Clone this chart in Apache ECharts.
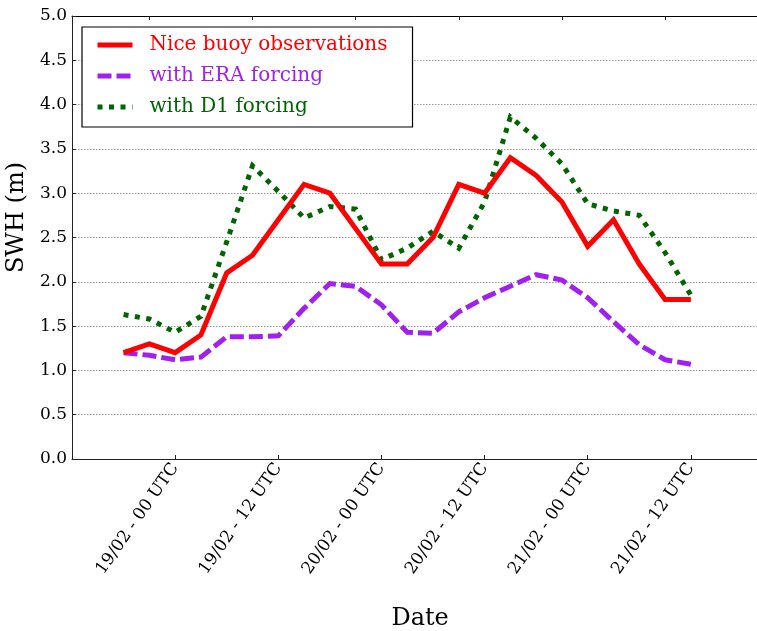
<!DOCTYPE html>
<html>
<head>
<meta charset="utf-8">
<script src="https://cdn.jsdelivr.net/npm/echarts@6/dist/echarts.min.js"></script>
<style>
html,body{margin:0;padding:0;background:#fff;}
#chart{width:757px;height:631px;}
</style>
</head>
<body>
<div id="chart"></div>
<script>
// Observation times (3-hourly)
var times = ['18/02 18','18/02 21','19/02 00','19/02 03','19/02 06','19/02 09','19/02 12','19/02 15','19/02 18','19/02 21',
             '20/02 00','20/02 03','20/02 06','20/02 09','20/02 12','20/02 15','20/02 18','20/02 21',
             '21/02 00','21/02 03','21/02 06','21/02 09','21/02 12'];
// Axis extent categories (before/after observations)
var padBefore = ['18/02 12','18/02 15'];
var padAfter = ['21/02 15','21/02 18','21/02 21'];

// Tick labels (bottom axis)
var tickCats = ['19/02 00','19/02 12','20/02 00','20/02 12','21/02 00','21/02 12'];
var tickLabels = ['19/02 - 00 UTC','19/02 - 12 UTC','20/02 - 00 UTC','20/02 - 12 UTC','21/02 - 00 UTC','21/02 - 12 UTC'];
// Top axis tick positions
var topTickCats = ['18/02 21','19/02 09','19/02 21','20/02 09','20/02 21','21/02 09'];

var yTicks = ['0.0','0.5','1.0','1.5','2.0','2.5','3.0','3.5','4.0','4.5','5.0'];

// Series values (SWH, m)
var obs = [1.2,1.3,1.2,1.4,2.1,2.3,2.7,3.1,3.0,2.6,2.2,2.2,2.5,3.1,3.0,3.4,3.2,2.9,2.4,2.7,2.2,1.8,1.8];
var era = [1.20,1.17,1.12,1.15,1.38,1.38,1.39,1.70,1.98,1.95,1.74,1.43,1.42,1.66,1.82,1.95,2.08,2.02,1.82,1.55,1.29,1.12,1.07];
var d1  = [1.63,1.58,1.43,1.61,2.45,3.31,3.02,2.72,2.85,2.82,2.25,2.38,2.57,2.38,2.90,3.86,3.62,3.33,2.88,2.80,2.75,2.33,1.85];

var names = ['Nice buoy observations','with ERA forcing','with D1 forcing'];
var colors = ['#ff0000','#a020f0','#006400'];
var dashes = ['solid',[14,5],[5,6.5]];

var categories = padBefore.concat(times).concat(padAfter);
function pairs(vals){ return times.map(function(t,i){ return [t, vals[i]]; }); }

var FONT = 'DejaVu Serif';
var chart = echarts.init(document.getElementById('chart'), null, {renderer:'canvas'});
var option = {
  animation:false,
  backgroundColor:'#fff',
  textStyle:{fontFamily:FONT},
  grid:{left:72, top:16, width:696.2, height:443, containLabel:false, outerBoundsMode:'none'},
  legend:{
    orient:'vertical', left:82, top:27,
    padding:[8,25,10,13],
    borderColor:'#000', borderWidth:1.2, borderRadius:0,
    backgroundColor:'#fff',
    itemWidth:35, itemHeight:14, itemGap:11,
    itemStyle:{color:'rgba(0,0,0,0)', borderColor:'rgba(0,0,0,0)', borderWidth:0, opacity:0},
    lineStyle:{width:5, cap:'butt'},
    textStyle:{fontFamily:FONT, fontSize:20, lineHeight:20, padding:[0,0,0,12]},
    data:names.map(function(n,i){ return {name:n, textStyle:{color:colors[i]},
      lineStyle:{width:5, color:colors[i], type:dashes[i], cap:'butt'}}; })
  },
  xAxis:[{
    type:'category', data:categories, boundaryGap:false, position:'bottom',
    name:'Date', nameLocation:'middle', nameGap:148,
    nameTextStyle:{fontFamily:FONT, fontSize:24, color:'#000'},
    axisLine:{show:true, lineStyle:{color:'#222', width:1}},
    axisTick:{show:true, inside:true, length:4, lineStyle:{color:'#222'},
      interval:function(idx, v){ return tickCats.indexOf(v) >= 0; }},
    axisLabel:{show:true, rotate:55, margin:6, fontFamily:FONT, fontSize:17, color:'#000',
      interval:function(idx, v){ return tickCats.indexOf(v) >= 0; },
      formatter:function(v){ var k = tickCats.indexOf(v); return k>=0 ? tickLabels[k] : ''; }},
    splitLine:{show:false}
  },{
    type:'category', data:categories, boundaryGap:false, position:'top',
    axisLine:{show:true, lineStyle:{color:'#000', width:1}},
    axisTick:{show:true, inside:true, length:4, lineStyle:{color:'#222'},
      interval:function(idx, v){ return topTickCats.indexOf(v) >= 0; }},
    axisLabel:{show:false},
    splitLine:{show:false}
  }],
  yAxis:{
    type:'value', min:0, max:5, interval:0.5,
    name:'SWH (m)', nameLocation:'middle', nameGap:40, nameRotate:90,
    nameTextStyle:{fontFamily:FONT, fontSize:24, color:'#000', padding:[0,0,0,40]},
    axisLine:{show:true, lineStyle:{color:'#222', width:1}},
    axisTick:{show:true, inside:true, length:4, lineStyle:{color:'#222'}},
    axisLabel:{fontFamily:FONT, fontSize:17, color:'#000', margin:5,
      formatter:function(v){ return yTicks[Math.round(v/0.5)]; }},
    splitLine:{show:true, lineStyle:{color:'#999', width:1, type:[1.5,1.5]}}
  },
  series:[
    {name:names[0], type:'line', data:pairs(obs), symbol:'none', z:4,
     lineStyle:{color:colors[0], width:5, type:dashes[0], join:'miter', cap:'butt'}, itemStyle:{color:colors[0]}},
    {name:names[1], type:'line', data:pairs(era), symbol:'none', z:3,
     lineStyle:{color:colors[1], width:5, type:dashes[1], join:'miter', cap:'butt'}, itemStyle:{color:colors[1]}},
    {name:names[2], type:'line', data:pairs(d1), symbol:'none', z:2,
     lineStyle:{color:colors[2], width:5, type:dashes[2], join:'miter', cap:'butt'}, itemStyle:{color:colors[2]}}
  ]
};
chart.setOption(option);
</script>
</body>
</html>
